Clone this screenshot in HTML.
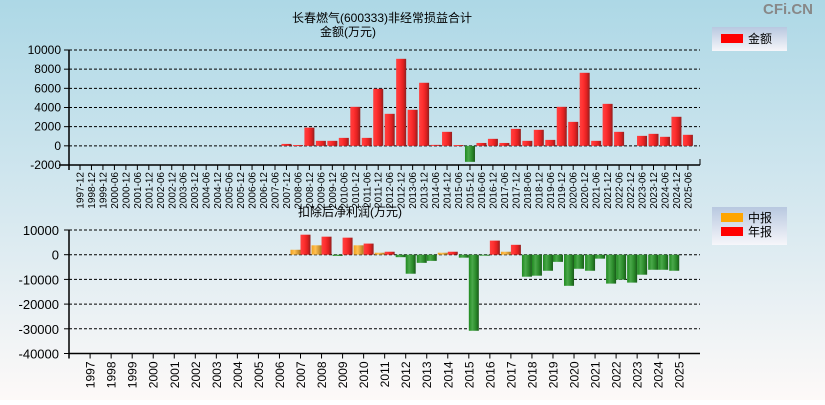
<!DOCTYPE html>
<html><head><meta charset="utf-8">
<style>
html,body{margin:0;padding:0;}
body{width:825px;height:400px;overflow:hidden;font-family:"Liberation Sans","Noto Sans CJK SC",sans-serif;}
svg text{font-family:"Liberation Sans","Noto Sans CJK SC",sans-serif;}
</style></head>
<body>
<svg id="chart" width="825" height="400" xmlns="http://www.w3.org/2000/svg">
<defs>
<linearGradient id="bg" x1="0" y1="0" x2="0" y2="1">
<stop offset="0" stop-color="#add8e6"/><stop offset="0.55" stop-color="#d8e9f0"/><stop offset="1" stop-color="#fdf9f8"/>
</linearGradient>
<linearGradient id="gRed" x1="0" y1="0" x2="1" y2="0">
<stop offset="0" stop-color="#ff4040"/><stop offset="0.35" stop-color="#ff3030"/><stop offset="0.7" stop-color="#e02020"/><stop offset="1" stop-color="#902020"/>
</linearGradient>
<linearGradient id="gGreen" x1="0" y1="0" x2="1" y2="0">
<stop offset="0" stop-color="#1f8a1f"/><stop offset="0.35" stop-color="#4aa84a"/><stop offset="0.7" stop-color="#2a8a2a"/><stop offset="1" stop-color="#1a5a1a"/>
</linearGradient>
<linearGradient id="gOrange" x1="0" y1="0" x2="1" y2="0">
<stop offset="0" stop-color="#f0a020"/><stop offset="0.4" stop-color="#ffc050"/><stop offset="1" stop-color="#b07820"/>
</linearGradient>
<linearGradient id="legbg" x1="0" y1="0" x2="0" y2="1">
<stop offset="0" stop-color="#b8c8e0"/><stop offset="1" stop-color="#f6f6fa"/>
</linearGradient>
</defs>
<rect x="0" y="0" width="825" height="400" fill="url(#bg)"/>
<text x="788" y="14" font-size="15" font-weight="bold" fill="#888" text-anchor="middle">CFi.CN</text>
<text x="382" y="22" font-size="12" text-anchor="middle">长春燃气(600333)非经常损益合计</text>
<text x="348" y="36" font-size="12" text-anchor="middle">金额(万元)</text>
<text x="350" y="216" font-size="12" text-anchor="middle">扣除后净利润(万元)</text>
<g>
<rect x="712" y="27" width="75" height="24" fill="url(#legbg)"/>
<rect x="721" y="34" width="22" height="9" fill="#ff0000"/>
<text x="748" y="43" font-size="12">金额</text>
</g>
<g>
<rect x="712" y="207" width="75" height="38" fill="url(#legbg)"/>
<rect x="721" y="213" width="22" height="9" fill="#ffa500"/>
<text x="748" y="222" font-size="12">中报</text>
<rect x="721" y="227" width="22" height="9" fill="#ff0000"/>
<text x="748" y="236" font-size="12">年报</text>
</g>
<g id="topchart"></g>
<g id="botchart"></g>
</svg>
<script>
const topCategories=["1997-12","1998-12","1999-12","2000-06","2000-12","2001-06","2001-12","2002-06","2002-12","2003-06","2003-12","2004-06","2004-12","2005-06","2005-12","2006-06","2006-12","2007-06","2007-12","2008-06","2008-12","2009-06","2009-12","2010-06","2010-12","2011-06","2011-12","2012-06","2012-12","2013-06","2013-12","2014-06","2014-12","2015-06","2015-12","2016-06","2016-12","2017-06","2017-12","2018-06","2018-12","2019-06","2019-12","2020-06","2020-12","2021-06","2021-12","2022-06","2022-12","2023-06","2023-12","2024-06","2024-12","2025-06"];
const topValues=[null,null,null,null,null,null,null,null,null,null,null,null,null,null,null,null,null,null,200,80,1900,520,520,830,4070,830,5950,3340,9080,3760,6580,100,1460,80,-1670,300,730,300,1770,520,1670,620,4070,2500,7620,520,4380,1460,0,1040,1250,940,3030,1150];
const topTicks=[10000,8000,6000,4000,2000,0,-2000];
const botYears=["1997","1998","1999","2000","2001","2002","2003","2004","2005","2006","2007","2008","2009","2010","2011","2012","2013","2014","2015","2016","2017","2018","2019","2020","2021","2022","2023","2024","2025"];
const botInterim=[null,null,null,null,null,null,null,null,null,null,2000,3800,-500,3800,800,-1000,-3300,800,-1200,-300,1200,-8900,-6500,-12600,-6500,-11700,-11300,-6100,-6500];
const botAnnual=[null,null,null,null,null,null,null,null,null,null,8100,7300,6900,4500,1200,-7700,-2500,1200,-30800,5700,4000,-8500,-2900,-5700,-1600,-10100,-8100,-6100,null];
const botTicks=[10000,0,-10000,-20000,-30000,-40000];

const NS="http://www.w3.org/2000/svg";
function mk(parent,tag,attrs){const e=document.createElementNS(NS,tag);for(const k in attrs)e.setAttribute(k,attrs[k]);parent.appendChild(e);return e;}
const X0=69,X1=700;

// top chart
const topG=document.getElementById('topchart');
const tyMax=10000,tyMin=-2000,tY0=50,tY1=165;
function ty(v){return tY0+(tyMax-v)/(tyMax-tyMin)*(tY1-tY0);}
const tStep=11.47,tFirst=80;
function tx(i){return tFirst+i*tStep;}
topTicks.forEach(v=>{
 const y=ty(v);
 const l=mk(topG,'line',{x1:X0,x2:X1,y1:y,y2:y,stroke:'#000','stroke-dasharray':'3,2','stroke-width':1});
 
 
 mk(topG,'line',{x1:X0-5,x2:X0,y1:y,y2:y,stroke:'#000'});
 const t=mk(topG,'text',{x:X0-8,y:y+4,'font-size':12,'text-anchor':'end'});t.textContent=v;
 
 
});
mk(topG,'line',{x1:X0,x2:X0,y1:tY0,y2:tY1+5,stroke:'#000','stroke-width':1.5});
mk(topG,'line',{x1:X0-10,x2:X1,y1:tY1,y2:tY1,stroke:'#000','stroke-width':1.5});
mk(topG,'line',{x1:X1,x2:X1,y1:tY1-6,y2:tY1,stroke:'#000'});
topCategories.forEach((c,i)=>{
 const x=tx(i);
 mk(topG,'line',{x1:x,x2:x,y1:tY1,y2:tY1+5,stroke:'#000'});
 const t=mk(topG,'text',{x:0,y:0,'font-size':10,'text-anchor':'end',transform:`translate(${x+3.5},${tY1+7}) rotate(-90)`});t.textContent=c;
 
 
 const v=topValues[i];
 if(v===null||v===0)return;
 const y0=ty(0),y=ty(v);
 const r=mk(topG,'rect',{x:x-5,y:Math.min(y0,y),width:10,height:Math.max(1,Math.abs(y-y0)),fill:v>=0?'url(#gRed)':'url(#gGreen)'});
 
 
});

// bottom chart
const botG=document.getElementById('botchart');
const byMax=10000,byMin=-40000,bY0=230,bY1=353.5;
function by(v){return bY0+(byMax-v)/(byMax-byMin)*(bY1-bY0);}
const bFirst=90.1,bStep=21.04;
function bx(i){return bFirst+i*bStep;}
botTicks.forEach(v=>{
 const y=by(v);
 if(v!==-40000){const l=mk(botG,'line',{x1:X0,x2:X1,y1:y,y2:y,stroke:'#000','stroke-dasharray':'3,2','stroke-width':1});
 
 }
 mk(botG,'line',{x1:X0-5,x2:X0,y1:y,y2:y,stroke:'#000'});
 const t=mk(botG,'text',{x:X0-10,y:y+5,'font-size':13,'text-anchor':'end'});t.textContent=v;
 
 
});
mk(botG,'line',{x1:X0,x2:X0,y1:bY0,y2:bY1+5,stroke:'#000','stroke-width':1.5});
mk(botG,'line',{x1:X0,x2:X1,y1:bY1,y2:bY1,stroke:'#000','stroke-width':1.5});
botYears.forEach((c,i)=>{
 const x=bx(i);
 mk(botG,'line',{x1:x,x2:x,y1:bY1,y2:bY1+5,stroke:'#000'});
 const t=mk(botG,'text',{x:0,y:0,'font-size':12,'text-anchor':'end',transform:`translate(${x+4.5},${bY1+8}) rotate(-90)`});t.textContent=c;
 
 
 const y0=by(0);
 const a=botInterim[i];
 if(a!==null){const y=by(a);
  const r=mk(botG,'rect',{x:x-10,y:Math.min(y0,y),width:10,height:Math.max(1,Math.abs(y-y0)),fill:a>=0?'url(#gOrange)':'url(#gGreen)'});
  
  }
 const b=botAnnual[i];
 if(b!==null){const y=by(b);
  const r=mk(botG,'rect',{x:x,y:Math.min(y0,y),width:10,height:Math.max(1,Math.abs(y-y0)),fill:b>=0?'url(#gRed)':'url(#gGreen)'});
  
  }
});
</script>
</body></html>
